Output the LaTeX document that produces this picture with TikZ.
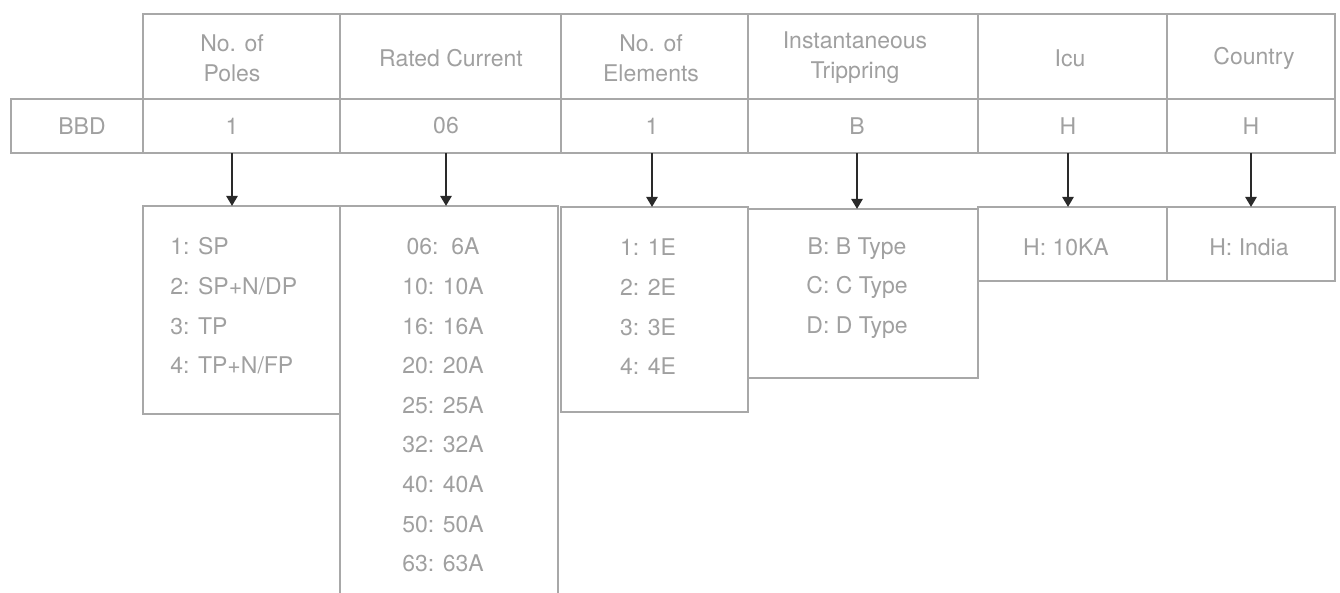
\documentclass[tikz,border=0pt]{standalone}
\usepackage{fontspec}
\setmainfont{TeX Gyre Heros}
\usetikzlibrary{fit,arrows.meta}
\definecolor{linegray}{HTML}{A8A8A8}
\definecolor{txtgray}{HTML}{A0A0A0}
\definecolor{arrowdark}{HTML}{2A2A2A}
\tikzset{
  cell/.style={draw=linegray, line width=0.8pt, inner sep=0pt, outer sep=0pt, rectangle},
  txt/.style={text=txtgray, font=\fontsize{11.5}{15}\selectfont, align=center, inner sep=0pt},
  lst/.style={text=txtgray, font=\fontsize{11.5}{19.8}\selectfont, inner sep=0pt},
  arr/.style={draw=arrowdark, line width=1.3pt, -{Triangle[length=5pt,width=5.5pt]}},
}
\begin{document}
\begin{tikzpicture}[x=0.5pt,y=-0.5pt]
\useasboundingbox (0,0) rectangle (1340,593);
\clip (0,0) rectangle (1340,593);
% header row
\node[cell, fit={(143,14)(340,99)}] (hPoles) {};
\node[cell, fit={(340,14)(561,99)}] (hRated) {};
\node[cell, fit={(561,14)(748,99)}] (hElem) {};
\node[cell, fit={(748,14)(978,99)}] (hInst) {};
\node[cell, fit={(978,14)(1167,99)}] (hIcu) {};
\node[cell, fit={(1167,14)(1335,99)}] (hCountry) {};
% data row
\node[cell, fit={(11,99)(143,153)}] (cBBD) {};
\node[cell, fit={(143,99)(340,153)}] (cPoles) {};
\node[cell, fit={(340,99)(561,153)}] (cRated) {};
\node[cell, fit={(561,99)(748,153)}] (cElem) {};
\node[cell, fit={(748,99)(978,153)}] (cInst) {};
\node[cell, fit={(978,99)(1167,153)}] (cIcu) {};
\node[cell, fit={(1167,99)(1335,153)}] (cCountry) {};
% list boxes
\node[cell, fit={(143,206)(340,414)}] (lPoles) {};
\node[cell, fit={(340,206)(558,640)}] (lRated) {};
\node[cell, fit={(561,207)(748,412)}] (lElem) {};
\node[cell, fit={(748,209)(978,378)}] (lInst) {};
\node[cell, fit={(978,207)(1167,281)}] (lIcu) {};
\node[cell, fit={(1167,207)(1335,281)}] (lCountry) {};
% header texts
\node[txt] (tPoles) at (232,58) {No. of\\Poles};
\node[txt] (tRated) at (451,58) {Rated Current};
\node[txt] (tElem) at (651,58) {No. of\\Elements};
\node[txt] (tInst) at (855,58) {Instantaneous\\Trippring};
\node[txt] (tIcu) at (1070,58) {Icu};
\node[txt] (tCountry) at (1254,58) {Country};
% data texts
\node[txt] (dBBD) at (82,126) {BBD};
\node[txt] (dPoles) at (232,126) {1};
\node[txt] (dRated) at (446,126) {06};
\node[txt] (dElem) at (652,126) {1};
\node[txt] (dInst) at (857,126) {B};
\node[txt] (dIcu) at (1068,126) {H};
\node[txt] (dCountry) at (1251,126) {H};
% list texts
\node[lst, align=left, anchor=west] (xPoles) at (170,306) {1: SP\\2: SP+N/DP\\3: TP\\4: TP+N/FP};
\node[lst, align=center] (xRated) at (443,405) {06:\ \ 6A\\10: 10A\\16: 16A\\20: 20A\\25: 25A\\32: 32A\\40: 40A\\50: 50A\\63: 63A};
\node[lst, align=center] (xElem) at (648,307) {1: 1E\\2: 2E\\3: 3E\\4: 4E};
\node[lst, align=center] (xInst) at (857,288) {B: B Type\\C: C Type\\D: D Type};
\node[lst, align=center] (xIcu) at (1066,247) {H: 10KA};
\node[lst, align=center] (xCountry) at (1249,247) {H: India};
% arrows
\draw[arr] (dPoles |- cPoles.south) -- (dPoles |- lPoles.north);
\draw[arr] (dRated |- cRated.south) -- (dRated |- lRated.north);
\draw[arr] (dElem |- cElem.south) -- (dElem |- lElem.north);
\draw[arr] (dInst |- cInst.south) -- (dInst |- lInst.north);
\draw[arr] (dIcu |- cIcu.south) -- (dIcu |- lIcu.north);
\draw[arr] (dCountry |- cCountry.south) -- (dCountry |- lCountry.north);
\end{tikzpicture}
\end{document}
